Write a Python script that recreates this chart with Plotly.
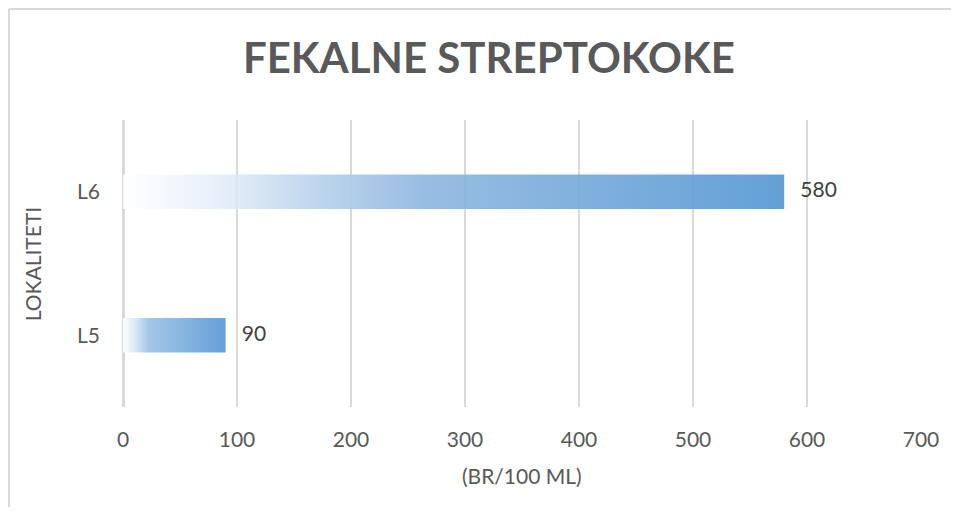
import plotly.graph_objects as go

# podaci
lokaliteti = ["L5", "L6"]
vrijednosti = [90, 580]

naslov = "FEKALNE STREPTOKOKE"
x_naslov = "(BR/100 ML)"
y_naslov = "LOKALITETI"
x_tickovi = [0, 100, 200, 300, 400, 500, 600, 700]

# gradijenti (bijelo -> plavo), Excel-ov izgled
gradijenti = [
    [[0, "rgba(255,255,255,0.9)"], [0.12, "rgba(214,230,245,0.9)"],
     [0.25, "rgba(156,193,230,0.92)"], [1, "rgba(91,155,213,0.95)"]],
    [[0, "rgba(255,255,255,0.9)"], [0.15, "rgba(227,237,248,0.9)"],
     [0.3, "rgba(181,208,235,0.9)"], [0.45, "rgba(143,184,224,0.92)"],
     [1, "rgba(91,155,213,0.95)"]],
]

tanki_font = "Liberation Sans Narrow, Lato, sans-serif"
pola_visine = 0.12
fig = go.Figure()

for i, (lok, v) in enumerate(zip(lokaliteti, vrijednosti)):
    # stupac kao popunjeni pravokutnik da bi se dobio gradijent
    fig.add_trace(go.Scatter(
        x=[0, v, v, 0, 0],
        y=[i - pola_visine, i - pola_visine, i + pola_visine, i + pola_visine, i - pola_visine],
        mode="lines",
        fill="toself",
        line=dict(width=0),
        fillgradient=dict(type="horizontal", colorscale=gradijenti[i]),
        hoverinfo="skip",
        showlegend=False,
    ))

# oznake vrijednosti
fig.add_trace(go.Scatter(
    x=vrijednosti,
    y=list(range(len(lokaliteti))),
    mode="text",
    text=[str(v) for v in vrijednosti],
    texttemplate="   %{text}",
    textposition="middle right",
    textfont=dict(family=tanki_font, size=21, color="#404040"),
    showlegend=False,
    hoverinfo="skip",
))

# stranica ima 8px margine tijela, pa je slika malo manja
fig.update_layout(
    width=943,
    height=499,
    margin=dict(l=115, r=30, t=112, b=100),
    paper_bgcolor="white",
    plot_bgcolor="white",
    title=dict(
        text=f"<b>{naslov}</b>",
        x=0.51, xanchor="center",
        y=0.9, yanchor="middle",
        font=dict(family="Lato", size=42, color="#595959"),
    ),
    xaxis=dict(
        range=[0, 700],
        tickvals=x_tickovi,
        showgrid=True,
        gridcolor="#d9d9d9",
        gridwidth=2,
        zeroline=True,
        zerolinecolor="#d9d9d9",
        zerolinewidth=3,
        showline=False,
        ticks="",
        ticklabelstandoff=18,
        tickfont=dict(family=tanki_font, size=21, color="#595959"),
    ),
    yaxis=dict(
        range=[-0.5, 1.5],
        tickvals=list(range(len(lokaliteti))),
        ticktext=lokaliteti,
        showgrid=False,
        zeroline=False,
        showline=False,
        ticks="",
        ticklabelstandoff=22,
        tickfont=dict(family=tanki_font, size=21, color="#595959"),
    ),
    annotations=[
        dict(text=x_naslov, xref="paper", yref="paper", x=0.5, y=-0.24,
             showarrow=False, xanchor="center", yanchor="middle",
             font=dict(family=tanki_font, size=21, color="#595959")),
        dict(text=y_naslov, xref="paper", yref="paper", x=-0.113, y=0.5,
             showarrow=False, textangle=-90, xanchor="center", yanchor="middle",
             font=dict(family=tanki_font, size=21, color="#595959")),
    ],
    shapes=[
        # okvir grafikona (vidljiv samo gore i lijevo)
        dict(type="line", xref="paper", yref="paper", x0=-0.1429, x1=1.05,
             y0=1.3868, y1=1.3868, line=dict(color="#d9d9d9", width=2)),
        dict(type="line", xref="paper", yref="paper", x0=-0.1429, x1=-0.1429,
             y0=-0.4, y1=1.3868, line=dict(color="#d9d9d9", width=2)),
    ],
)

fig.write_html("out.html")
